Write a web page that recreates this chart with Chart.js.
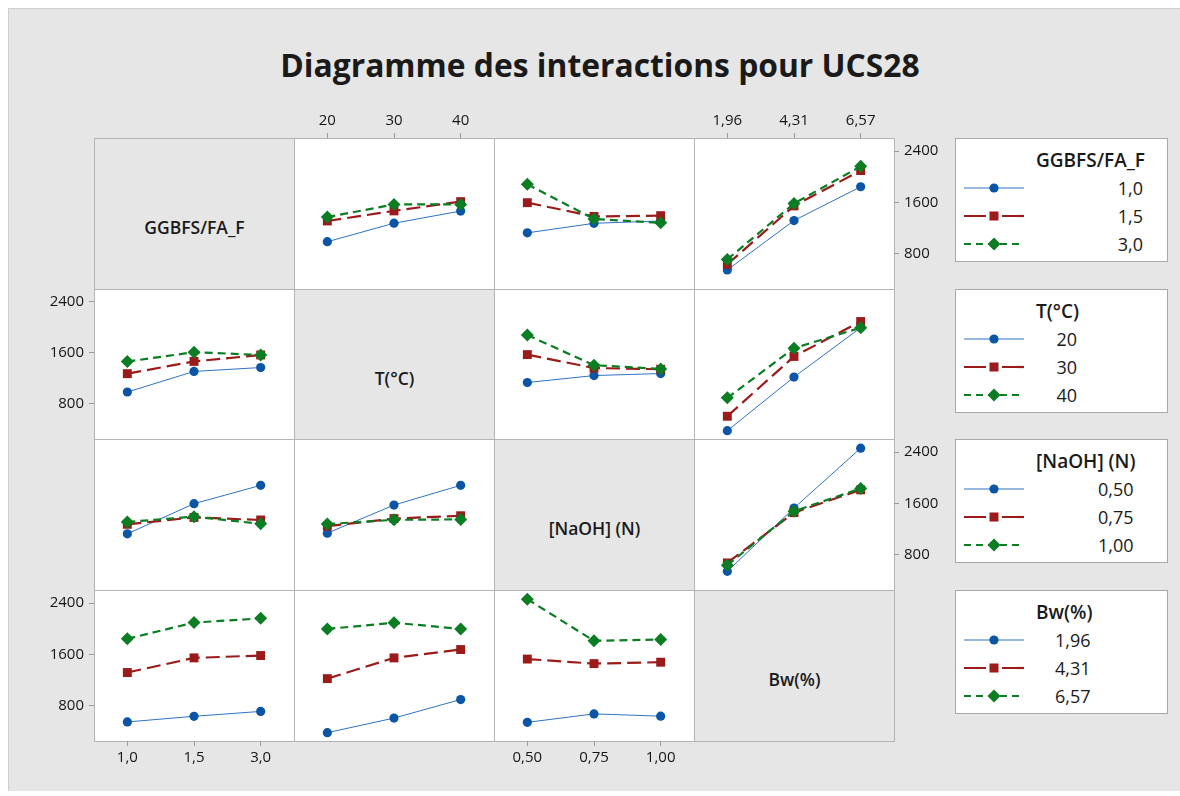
<!DOCTYPE html>
<html lang="fr">
<head>
<meta charset="UTF-8">
<script src="https://cdn.jsdelivr.net/npm/chart.js@4.4.1/dist/chart.umd.min.js"></script>
<title>Diagramme des interactions pour UCS28</title>
<style>
  html, body { margin: 0; width: 1180px; height: 796px; overflow: hidden; background: #fff; }
  body { position: relative; font-family: "Open Sans", "Noto Sans", sans-serif; color: #1a1a1a; }
  #frame { position: absolute; left: 8px; top: 8px; width: 1172px; height: 782px;
           background: #e6e6e6; border-left: 1px solid #cfcfcf; border-top: 1px solid #cfcfcf; }
  #title { position: absolute; left: 18px; top: 44px; width: 1164px; text-align: center;
           font-size: 31.8px; font-weight: 700; line-height: 42px; }
  .cell { position: absolute; box-sizing: border-box; border: 1px solid #b4b4b4; background: #fff; }
  .cell.diag { background: #e6e6e6; }
  .diag-label { position: absolute; left: 0; width: 100%; text-align: center;
                font-size: 17.5px; font-weight: 600; line-height: 22px; }
  canvas.panel { position: absolute; z-index: 2; }
  .legend { position: absolute; box-sizing: border-box; width: 213px; height: 124px;
            background: #fff; border: 1px solid #a8a8a8; }
  .legend .samples { position: absolute; left: 7px; top: 0; }
  .legend .texts { position: absolute; left: 80px; top: 8px; display: inline-block; }
  .legend .ttl { font-size: 19px; font-weight: 600; line-height: 27px; white-space: nowrap; }
  .legend .val { font-size: 18px; line-height: 28px; text-align: right; padding-right: 2px; }
</style>
</head>
<body>
<div id="frame"></div>
<div id="title">Diagramme des interactions pour UCS28</div>

<script>
    const factorNames = ['GGBFS/FA_F', 'T(°C)', '[NaOH] (N)', 'Bw(%)'];
    const levelsGGBFS = ['1,0', '1,5', '3,0'];
    const levelsT = ['20', '30', '40'];
    const levelsNaOH = ['0,50', '0,75', '1,00'];
    const levelsBw = ['1,96', '4,31', '6,57'];
    const yTicks = [800, 1600, 2400];

    // mean UCS28 per pair of factors: row = level of first factor, column = level of second
    const meanGGBFS_T = [[987, 1275, 1465], [1310, 1467, 1612], [1371, 1568, 1568]];
    const meanGGBFS_NaOH = [[1125, 1274, 1310], [1595, 1381, 1393], [1881, 1341, 1282]];
    const meanGGBFS_Bw = [[547, 1317, 1843], [635, 1545, 2095], [711, 1582, 2161]];
    const meanT_NaOH = [[1136, 1245, 1277], [1574, 1363, 1344], [1881, 1407, 1350]];
    const meanT_Bw = [[380, 1222, 1996], [607, 1545, 2093], [896, 1675, 1996]];
    const meanNaOH_Bw = [[541, 1527, 2460], [672, 1456, 1811], [637, 1478, 1832]];

    const levels = [levelsGGBFS, levelsT, levelsNaOH, levelsBw];
    const pairMeans = {
        '0-1': meanGGBFS_T, '0-2': meanGGBFS_NaOH, '0-3': meanGGBFS_Bw,
        '1-2': meanT_NaOH, '1-3': meanT_Bw, '2-3': meanNaOH_Bw
    };

    function cellMean(i, j, a, b) {
        return i < j ? pairMeans[i + '-' + j][a][b] : pairMeans[j + '-' + i][b][a];
    }

    const Y_MIN = 250, Y_MAX = 2603;
    const GX = 94, GY = 138, CW = 200, CH = 150.7;
    const M = 56;   // room around each panel for its axis
    const colLeft = j => Math.round(GX + j * CW);
    const rowTop = i => Math.round(GY + i * CH);

    const lineStyles = [
        {color: '#0A55A6', line: '#2F72C4', width: 1, dash: [], point: 'circle', radius: 4.6, order: 2},
        {color: '#9B1B1B', line: '#9B1B1B', width: 2.2, dash: [14, 6], point: 'rect', radius: 6.3, order: 1},
        {color: '#0B7D22', line: '#0B7D22', width: 2.2, dash: [8, 5], point: 'rectRot', radius: 6.5, order: 0}
    ];

    Chart.defaults.font.family = '"Open Sans", "Noto Sans", sans-serif';
    const tickFont = {size: 15};
    const tickColor = '#161616';

    // grid cells
    for (let i = 0; i < 4; i++) {
        for (let j = 0; j < 4; j++) {
            const x = colLeft(j), y = rowTop(i);
            const w = colLeft(j + 1) - x, h = rowTop(i + 1) - y;
            const cell = document.createElement('div');
            cell.className = 'cell' + (i === j ? ' diag' : '');
            cell.style.left = x + 'px';
            cell.style.top = y + 'px';
            cell.style.width = (w + 1) + 'px';
            cell.style.height = (h + 1) + 'px';
            if (i === j) {
                const lab = document.createElement('div');
                lab.className = 'diag-label';
                lab.style.top = '77px';
                lab.textContent = factorNames[i];
                cell.appendChild(lab);
            }
            document.body.appendChild(cell);
        }
    }

    function panelChart(i, j) {
        const x = colLeft(j), y = rowTop(i);
        const w = colLeft(j + 1) - x, h = rowTop(i + 1) - y;
        const xs = levels[j];

        const showTop = i === 0 && (j === 1 || j === 3);
        const showBottom = i === 3 && (j === 0 || j === 2);
        const showLeft = j === 0 && (i === 1 || i === 3);
        const showRight = j === 3 && (i === 0 || i === 2);

        const canvas = document.createElement('canvas');
        canvas.className = 'panel';
        canvas.width = w + 2 * M;
        canvas.height = h + 2 * M;
        canvas.style.left = (x - M) + 'px';
        canvas.style.top = (y - M) + 'px';
        document.body.appendChild(canvas);

        const datasets = levels[i].map((lv, a) => {
            const s = lineStyles[a];
            return {
                label: lv,
                data: xs.map((_, b) => ({x: b, y: cellMean(i, j, a, b)})),
                borderColor: s.line,
                borderWidth: s.width,
                borderDash: s.dash,
                pointStyle: s.point,
                pointRadius: s.radius,
                pointBackgroundColor: s.color,
                pointBorderColor: s.color,
                pointBorderWidth: 0,
                tension: 0,
                order: s.order
            };
        });

        return new Chart(canvas.getContext('2d'), {
            type: 'line',
            data: {datasets: datasets},
            options: {
                responsive: false,
                animation: false,
                events: [],
                layout: {
                    padding: {
                        top: showTop ? 0 : M, bottom: showBottom ? 0 : M,
                        left: showLeft ? 0 : M, right: showRight ? 0 : M
                    }
                },
                plugins: {legend: {display: false}, tooltip: {enabled: false}},
                scales: {
                    x: {
                        type: 'linear', min: -0.5, max: 2.5,
                        display: showTop || showBottom,
                        position: showTop ? 'top' : 'bottom',
                        afterBuildTicks: s => { s.ticks = [0, 1, 2].map(v => ({value: v})); },
                        afterFit: s => { if (showTop || showBottom) s.height = M; },
                        ticks: {
                            callback: v => xs[v], font: tickFont, color: tickColor,
                            padding: 3, maxRotation: 0, autoSkip: false
                        },
                        grid: {drawOnChartArea: false, drawTicks: true, tickLength: 5, color: '#9a9a9a'},
                        border: {display: false}
                    },
                    y: {
                        type: 'linear', min: Y_MIN, max: Y_MAX,
                        display: showLeft || showRight,
                        position: showRight ? 'right' : 'left',
                        afterBuildTicks: s => { s.ticks = yTicks.map(v => ({value: v})); },
                        afterFit: s => { if (showLeft || showRight) s.width = M; },
                        ticks: {callback: v => String(v), font: tickFont, color: tickColor, padding: 5},
                        grid: {drawOnChartArea: false, drawTicks: true, tickLength: 5, color: '#9a9a9a'},
                        border: {display: false}
                    }
                }
            }
        });
    }

    for (let i = 0; i < 4; i++) {
        for (let j = 0; j < 4; j++) {
            if (i !== j) panelChart(i, j);
        }
    }

    // legend sample: line with its marker in the middle
    function sampleSvg(s) {
        const cx = 31, cy = 8;
        let marker;
        if (s.point === 'circle') {
            marker = `<circle cx="${cx}" cy="${cy}" r="4.6" fill="${s.color}"/>`;
        } else if (s.point === 'rect') {
            marker = `<rect x="${cx - 4.5}" y="${cy - 4.5}" width="9" height="9" fill="${s.color}"/>`;
        } else {
            marker = `<polygon points="${cx},${cy - 6.5} ${cx + 6.5},${cy} ${cx},${cy + 6.5} ${cx - 6.5},${cy}" fill="${s.color}"/>`;
        }
        const dash = s.point === 'rect' ? '22 16' : (s.point === 'rectRot' ? '7 5' : 'none');
        return `<svg width="62" height="16" style="display:block">` +
            `<line x1="1" y1="${cy}" x2="61" y2="${cy}" stroke="${s.line}" stroke-width="${s.width === 1 ? 1.2 : 2.2}" stroke-dasharray="${dash}"/>` +
            marker + `</svg>`;
    }

    for (let i = 0; i < 4; i++) {
        const box = document.createElement('div');
        box.className = 'legend';
        box.style.left = '955px';
        box.style.top = rowTop(i) + 'px';

        const samples = document.createElement('div');
        samples.className = 'samples';
        lineStyles.forEach((s, a) => {
            const d = document.createElement('div');
            d.style.position = 'absolute';
            d.style.left = '0px';
            d.style.top = (41 + a * 28) + 'px';
            d.innerHTML = sampleSvg(s);
            samples.appendChild(d);
        });
        box.appendChild(samples);

        const texts = document.createElement('div');
        texts.className = 'texts';
        const t = document.createElement('div');
        t.className = 'ttl';
        t.textContent = factorNames[i];
        texts.appendChild(t);
        levels[i].forEach(lv => {
            const v = document.createElement('div');
            v.className = 'val';
            v.textContent = lv;
            texts.appendChild(v);
        });
        box.appendChild(texts);
        document.body.appendChild(box);
    }
</script>
</body>
</html>
